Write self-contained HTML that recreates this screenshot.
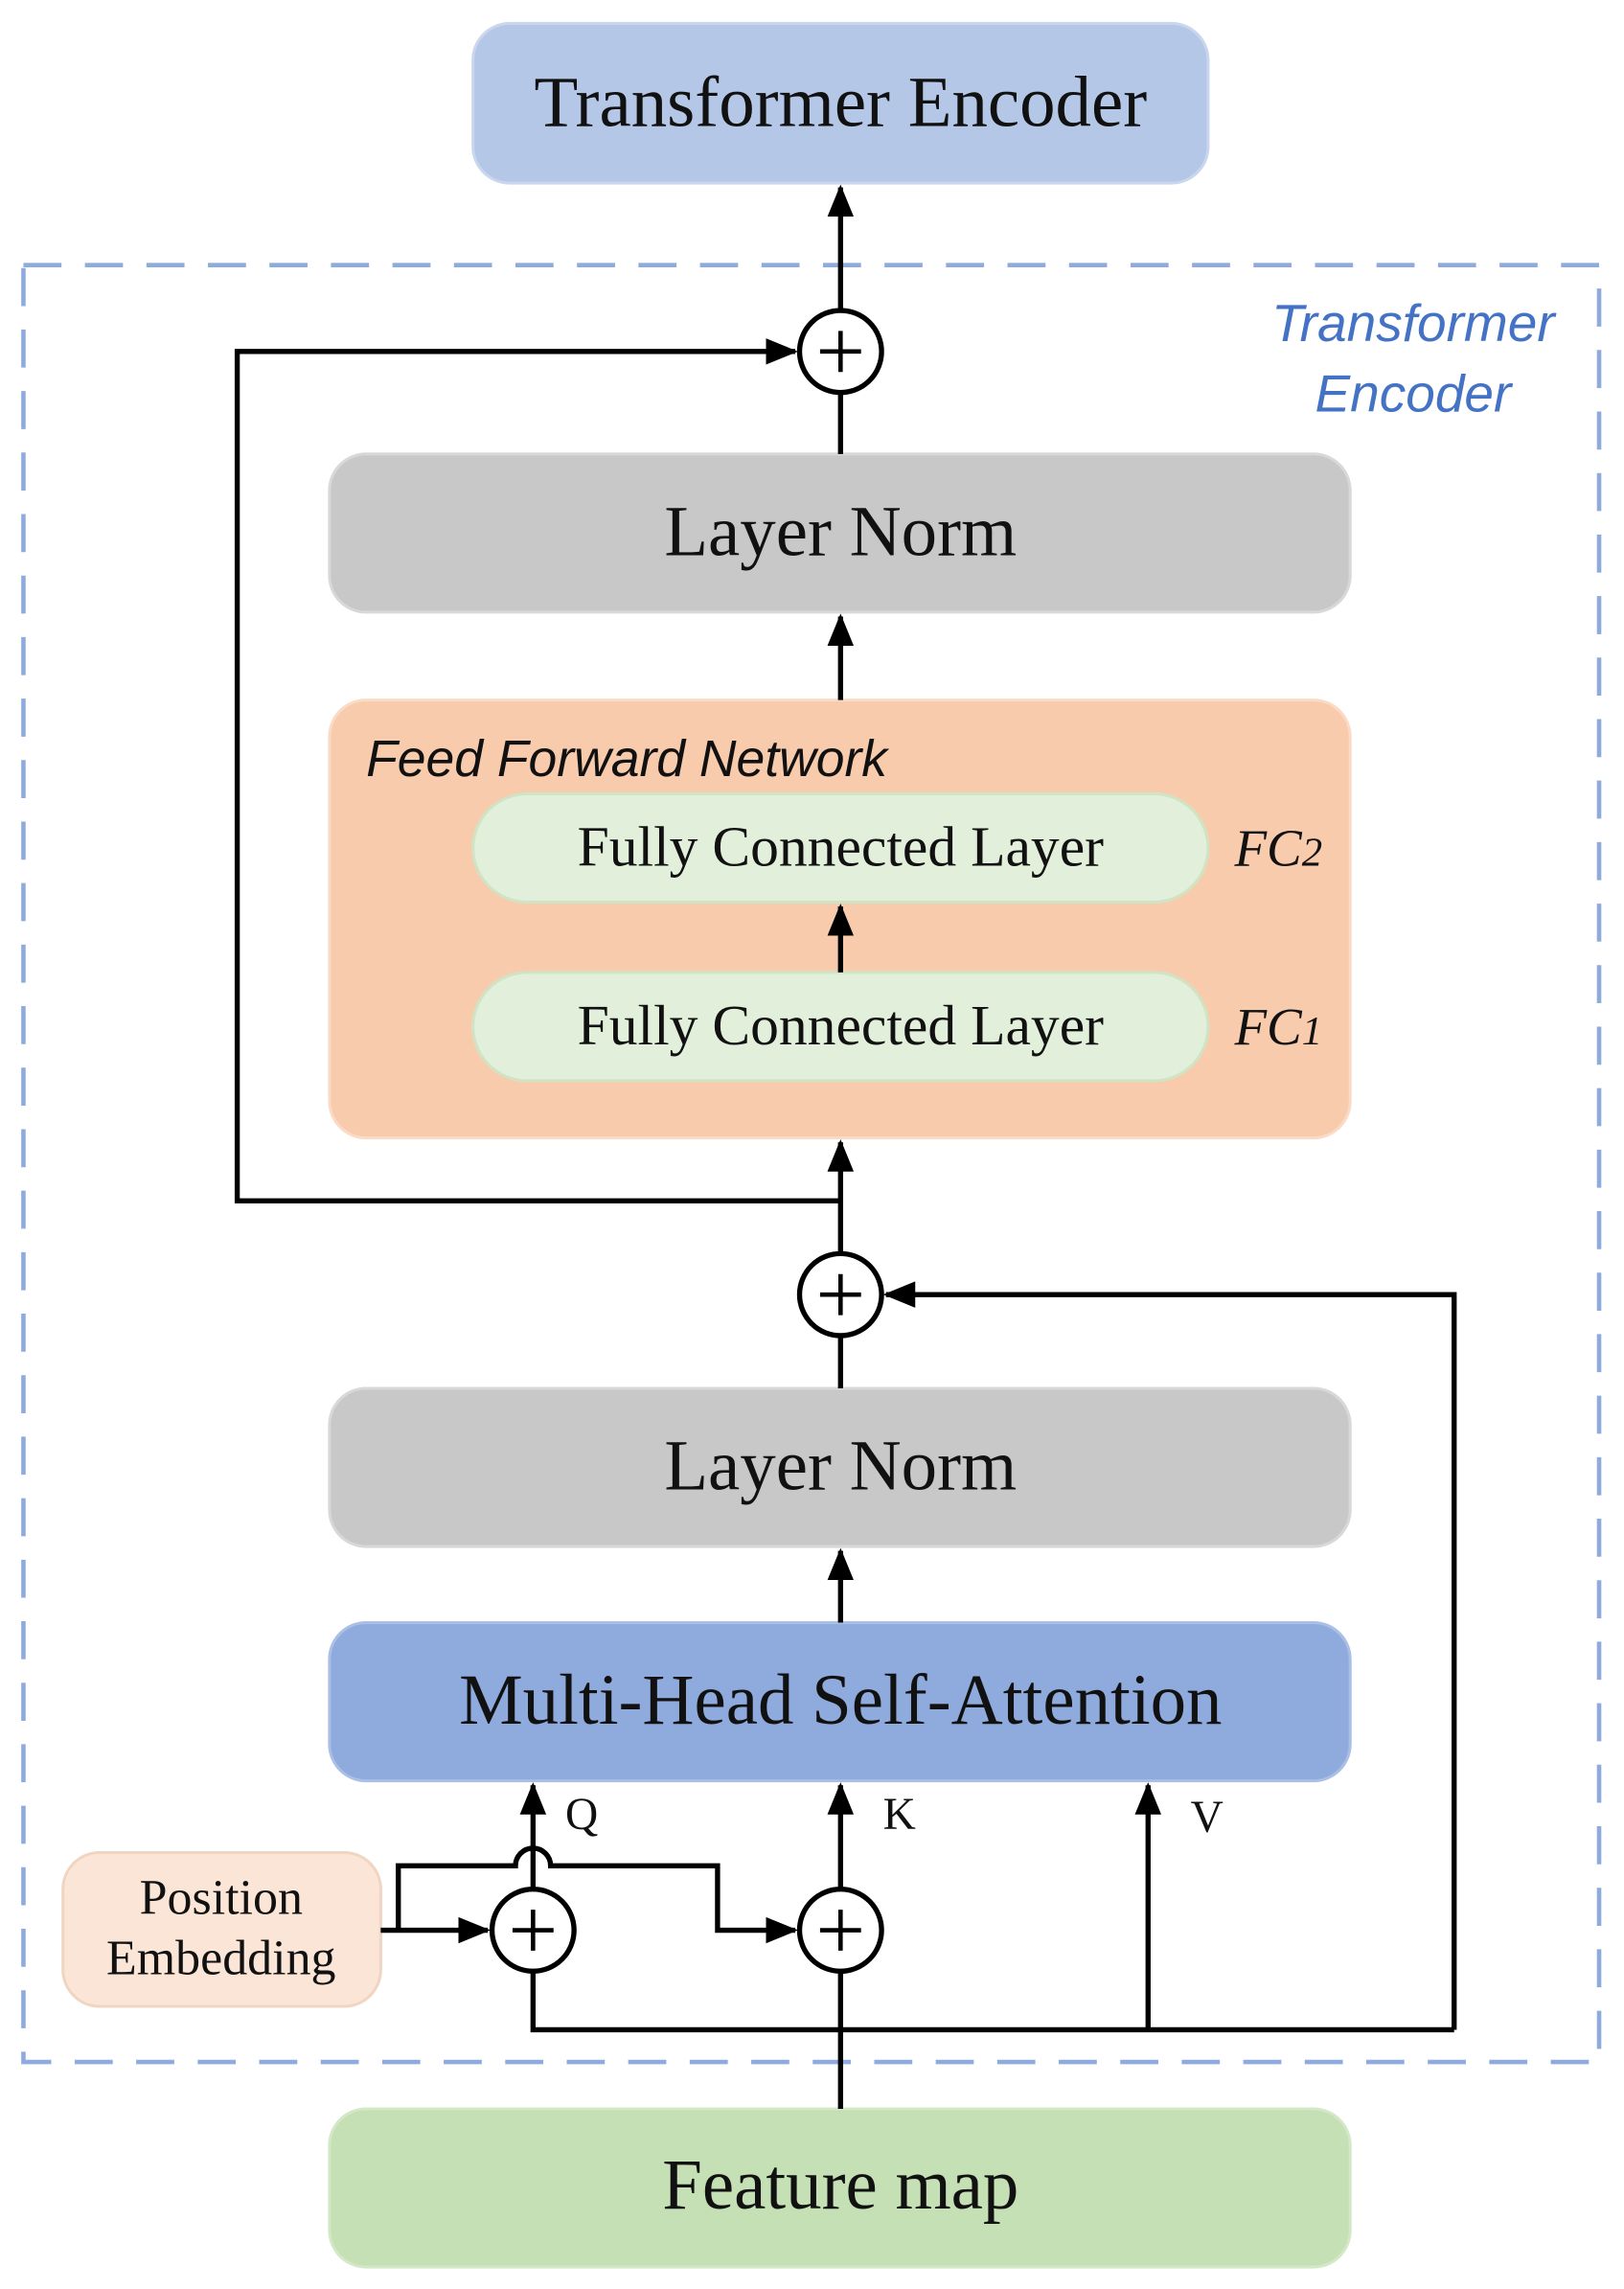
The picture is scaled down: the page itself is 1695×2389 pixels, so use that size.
<!DOCTYPE html>
<html><head><meta charset="utf-8"><style>
html,body{margin:0;padding:0;background:#fff;}
svg{display:block;}
.s{font-family:"Liberation Serif",serif;fill:#111;}
.i{font-family:"Liberation Sans",sans-serif;font-style:italic;}
</style></head><body>
<svg width="1695" height="2389" viewBox="0 0 1109 1563" preserveAspectRatio="none" xmlns="http://www.w3.org/2000/svg">
<defs>
<marker id="b" markerWidth="22" markerHeight="22" refX="20" refY="11" orient="auto" markerUnits="userSpaceOnUse" viewBox="0 0 22 22">
<path d="M0,2 L22,11 L0,20 z" fill="#000"/></marker>
</defs>
<rect x="16" y="181" width="1076" height="1227" fill="none" stroke="#8faadc" stroke-width="3" stroke-dasharray="26,16"/>
<text x="965" y="233" class="i" font-size="36" fill="#4472c4" text-anchor="middle">Transformer</text>
<text x="965" y="281" class="i" font-size="36" fill="#4472c4" text-anchor="middle">Encoder</text>

<rect x="323" y="16" width="502" height="109" rx="25" fill="#b4c7e7" stroke="#c9d6ee" stroke-width="2"/>
<text x="574" y="86" class="s" font-size="49" text-anchor="middle">Transformer Encoder</text>

<rect x="225" y="310" width="697" height="108" rx="25" fill="#c8c8c8" stroke="#d8d8d8" stroke-width="2"/>
<text x="574" y="379" class="s" font-size="49" text-anchor="middle">Layer Norm</text>

<rect x="225" y="478" width="697" height="299" rx="25" fill="#f8cbad" stroke="#fadbc6" stroke-width="2"/>
<text x="250" y="530" class="i" font-size="35" fill="#111">Feed Forward Network</text>
<rect x="323" y="542" width="502" height="74" rx="37" fill="#e2efda" stroke="#d0e4c4" stroke-width="2"/>
<text x="574" y="591" class="s" font-size="39" text-anchor="middle">Fully Connected Layer</text>
<rect x="323" y="664" width="502" height="74" rx="37" fill="#e2efda" stroke="#d0e4c4" stroke-width="2"/>
<text x="574" y="713" class="s" font-size="39" text-anchor="middle">Fully Connected Layer</text>
<text x="843" y="591" class="s" font-size="36" font-style="italic">FC<tspan font-size="28">2</tspan></text>
<text x="843" y="713" class="s" font-size="36" font-style="italic">FC<tspan font-size="28">1</tspan></text>

<rect x="225" y="948" width="697" height="108" rx="25" fill="#c8c8c8" stroke="#d8d8d8" stroke-width="2"/>
<text x="574" y="1017" class="s" font-size="49" text-anchor="middle">Layer Norm</text>

<rect x="225" y="1108" width="697" height="108" rx="25" fill="#8faadc" stroke="#a9bfe6" stroke-width="2"/>
<text x="574" y="1177" class="s" font-size="49" text-anchor="middle">Multi-Head Self-Attention</text>

<rect x="43" y="1265" width="217" height="105" rx="25" fill="#fbe5d6" stroke="#f0d5c2" stroke-width="2"/>
<text x="151" y="1307" class="s" font-size="34" text-anchor="middle">Position</text>
<text x="151" y="1348" class="s" font-size="34" text-anchor="middle">Embedding</text>

<rect x="225" y="1440" width="697" height="108" rx="25" fill="#c5e0b4" stroke="#d3e8c6" stroke-width="2"/>
<text x="574" y="1508" class="s" font-size="49" text-anchor="middle">Feature map</text>

<g stroke="#000" stroke-width="3.5" fill="none">
<line x1="574" y1="212" x2="574" y2="128" marker-end="url(#b)"/>
<line x1="574" y1="310" x2="574" y2="268"/>
<line x1="574" y1="478" x2="574" y2="421" marker-end="url(#b)"/>
<line x1="574" y1="664" x2="574" y2="619" marker-end="url(#b)"/>
<line x1="574" y1="856" x2="574" y2="780" marker-end="url(#b)"/>
<polyline points="574,820 162,820 162,240 543,240" marker-end="url(#b)"/>
<line x1="574" y1="948" x2="574" y2="912"/>
<line x1="574" y1="1108" x2="574" y2="1059" marker-end="url(#b)"/>
<polyline points="993,1386 993,884 605,884" marker-end="url(#b)"/>
<line x1="574" y1="1440" x2="574" y2="1346"/>
<line x1="574" y1="1290" x2="574" y2="1219" marker-end="url(#b)"/>
<line x1="364" y1="1290" x2="364" y2="1219" marker-end="url(#b)"/>
<line x1="784" y1="1386" x2="784" y2="1219" marker-end="url(#b)"/>
<polyline points="364,1346 364,1386 993,1386"/>
<line x1="260" y1="1318" x2="333" y2="1318" marker-end="url(#b)"/>
<path d="M272,1318 L272,1274 L352,1274 A12,12 0 0 1 376,1274 L490,1274 L490,1318 L543,1318" marker-end="url(#b)"/>
</g>
<g stroke="#000" stroke-width="3.5" fill="#fff">
<circle cx="574" cy="240" r="28"/>
<circle cx="574" cy="884" r="28"/>
<circle cx="364" cy="1318" r="28"/>
<circle cx="574" cy="1318" r="28"/>
</g>
<g stroke="#000" stroke-width="3">
<line x1="560" y1="240" x2="588" y2="240"/><line x1="574" y1="226" x2="574" y2="254"/>
<line x1="560" y1="884" x2="588" y2="884"/><line x1="574" y1="870" x2="574" y2="898"/>
<line x1="350" y1="1318" x2="378" y2="1318"/><line x1="364" y1="1304" x2="364" y2="1332"/>
<line x1="560" y1="1318" x2="588" y2="1318"/><line x1="574" y1="1304" x2="574" y2="1332"/>
</g>
<text x="386" y="1249" class="s" font-size="31">Q</text>
<text x="603" y="1249" class="s" font-size="31">K</text>
<text x="813" y="1251" class="s" font-size="31">V</text>
</svg>
</body></html>
